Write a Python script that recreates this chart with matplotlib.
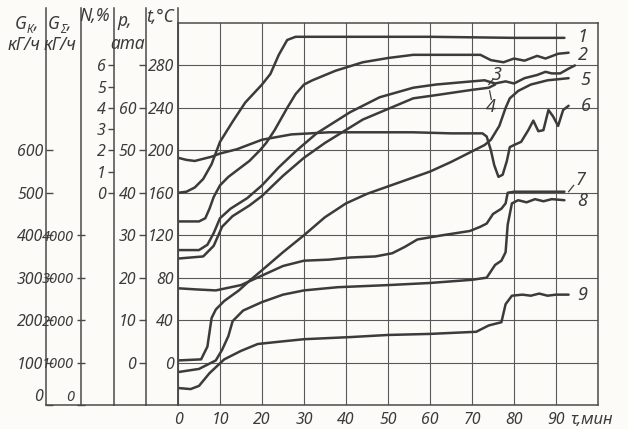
import matplotlib
matplotlib.use('Agg')
import matplotlib.pyplot as plt

# время, мин, и значения кривых в единицах шкалы t, °C (левая шкала графика)
c1_x = [0, 2, 4, 6, 8, 10, 13, 16, 20, 22, 24, 26, 28, 40, 60, 80, 92]
c1_y = [160, 161, 165, 173, 187, 208, 227, 245, 262, 272, 290, 304, 307, 307, 307, 306, 306]

c2_x = [0, 5, 6.5, 7.5, 8.5, 10, 12, 14, 17, 19.5, 21, 23, 25, 26, 28, 30, 32, 37.5, 44, 50, 56, 65, 72,
        74.5, 77.5, 80, 82.5, 85.5, 87.5, 90.5, 93]
c2_y = [133, 133, 136, 145, 156, 167, 175, 181, 190, 200, 207, 219, 233, 240, 253, 262, 266, 275, 283, 287, 290, 290, 290,
        285, 283, 286.5, 284.5, 289, 286.5, 291, 292]

c3_x = [0, 5, 7, 8.5, 10, 12.5, 16.5, 20, 24, 28, 33, 41, 48, 56, 61.4, 70, 73, 75.5, 78, 80, 82.5, 85.5, 87.5,
        89, 91, 93, 94.5]
c3_y = [106, 106, 111, 122, 136, 145, 155, 167, 184, 199, 216, 236, 250, 259, 262, 265, 266, 263, 265, 263, 268, 271, 274,
        272.5, 272.5, 277, 280]

c4_x = [0, 6, 8.5, 10.5, 13, 17, 20, 25, 30, 35, 44, 56, 61.4, 70, 74, 75.5]
c4_y = [98, 100, 110, 128, 138, 148, 157, 176, 193, 207, 229, 249, 252, 257, 259, 262]

c5_x = [0, 5.5, 7, 8, 9, 11, 14.5, 17, 20, 25, 30, 35, 40, 45, 50, 55, 60, 65, 70, 73, 74.5, 76.5, 78, 79, 81,
        84, 88, 93]
c5_y = [2, 3, 15, 42, 50, 58, 68, 77, 87, 104, 120, 137, 150, 159, 166, 173, 180, 189, 199, 205, 210, 223, 240, 249, 256,
        262, 266, 268]

c6_x = [0, 2, 4, 8, 10, 14, 18, 20, 27, 36, 56, 65, 72.5, 73.5, 74.5, 75.3, 76.3, 77.3, 78.3, 79, 80, 81.7, 83.4,
        84.6, 85.8, 87, 88.2, 89.3, 90.5, 91.7, 93]
c6_y = [193, 191, 190, 194, 197, 201, 207, 210, 215, 217, 217, 216, 216, 213, 200, 186, 175, 177, 190, 203, 205, 208, 219,
        228, 218, 219, 238, 232, 223, 238, 242]

c7_x = [0, 4, 9, 15, 20, 25, 30, 36, 41, 47, 51, 54, 57, 63, 69.5, 72, 73.5, 75, 77, 78, 78.5, 80, 92]
c7_y = [70, 69, 68, 73, 82, 91, 96, 97, 99, 100, 103, 109, 116, 120, 124, 128, 131, 140, 145, 150, 160, 161, 161]

c8_x = [0, 5, 9, 10.5, 12, 13, 15.5, 20, 25, 30, 38, 50, 60, 70, 73.5, 74.5, 75.5, 77, 78, 78.5, 79.5, 81, 83, 85,
        87, 89, 92]
c8_y = [-9, -6, 2, 12, 25, 39, 49, 57, 64, 68, 71, 73, 75, 78, 80, 86, 92, 96, 104, 130, 150, 153, 151, 154,
        152, 154, 153]

c9_x = [0, 3, 5, 7.5, 11, 15, 19, 25, 30, 41, 50, 60, 71, 74, 77, 78, 79.5, 82, 84, 86, 88, 90, 93]
c9_y = [-24, -25, -22, -10, 3, 11, 17.5, 20, 22, 24, 26, 27, 29, 35, 38, 55, 63, 64, 63, 65, 63, 64, 64]

curves = [(c1_x, c1_y), (c2_x, c2_y), (c3_x, c3_y), (c4_x, c4_y), (c5_x, c5_y),
          (c6_x, c6_y), (c7_x, c7_y), (c8_x, c8_y), (c9_x, c9_y)]

# номера кривых и где они подписаны
curve_labels = ['1', '2', '3', '4', '5', '6', '7', '8', '9']
label_x = [95, 95.3, 75.9, 74.6, 95.8, 95.8, 94.6, 95, 95]
label_y = [307, 290, 271, 241, 266, 242, 172, 152, 64]

x_ticks = [0, 10, 20, 30, 40, 50, 60, 70, 80, 90]
t_ticks = [0, 40, 80, 120, 160, 200, 240, 280]
p_ticks = [0, 10, 20, 30, 40, 50, 60, 70]
p_labels = ['0', '10', '20', '30', '40', '50', '60', '']
n_ticks = [0, 1, 2, 3, 4, 5, 6]
gs_ticks = [0, 1000, 2000, 3000, 4000]
gk_ticks = [0, 100, 200, 300, 400, 500, 600]

INK = '#3b3b3b'
LINE = '#4a4a4a'
BG = '#fcfbf7'
FONT = ['Noto Sans', 'DejaVu Sans']
FS = 11.5

plt.rcParams['font.family'] = FONT
plt.rcParams['font.style'] = 'italic'
plt.rcParams['font.stretch'] = 'condensed'
plt.rcParams['text.color'] = INK

W, H = 628, 429
fig = plt.figure(figsize=(W / 100, H / 100), dpi=100, facecolor=BG)


def fx(x):
    return x / W


def fy(y):
    return 1 - y / H


# главный график в пикселях
L, R, T, B = 178, 598, 23, 405
TOP_LINE = 8
ax = fig.add_axes([fx(L), fy(B), (R - L) / W, (B - T) / H])
ax.set_facecolor(BG)
ax.set_xlim(0, 100)
ax.set_ylim(-40, 320)

for c_x, c_y in curves:
    ax.plot(c_x, c_y, color=INK, lw=1.8, solid_capstyle='round', solid_joinstyle='round')

ax.set_xticks(x_ticks)
ax.set_yticks(t_ticks)
ax.grid(True, color='#585858', lw=0.8)
ax.tick_params(axis='both', length=0, labelsize=FS, colors=INK)
ax.tick_params(axis='x', pad=5)
ax.tick_params(axis='y', pad=3)
for s in ax.spines.values():
    s.set_color(LINE)
    s.set_linewidth(1.1)

for lab, lx, ly in zip(curve_labels, label_x, label_y):
    ax.text(lx, ly, lab, fontsize=13, ha='left' if lx > 90 else 'center', va='center', color=INK)

# выноски для 3, 4, 7
ax.plot([74.0, 75.0], [262, 267], color=INK, lw=0.9)
ax.plot([74.2, 74.6], [256, 248], color=INK, lw=0.9)
ax.plot([93.0, 94.2], [161, 167], color=INK, lw=0.9)

ax.annotate('τ,мин', xy=(93.5, 0), xycoords=('data', 'axes fraction'),
            xytext=(0, -5), textcoords='offset points', fontsize=FS + 0.5, ha='left', va='top')

# дополнительные шкалы слева
t_ext = 320 + (T - TOP_LINE) * 360 / (B - T)
scales = [
    (46, 81, lambda t: (t + 40) * 2.5, gk_ticks, [str(v) for v in gk_ticks], 'in', 5, FS),
    (81, 114, lambda t: (t + 40) * 25, gs_ticks, [str(v) for v in gs_ticks], 'inout', 6, FS - 1),
    (114, 146, lambda t: (t - 160) / 20, n_ticks, [str(v) for v in n_ticks], 'out', 4, FS),
    (146, L, lambda t: t / 4, p_ticks, p_labels, 'out', 5, FS),
]
for i, (x0, x1, conv, ticks, labels, direction, tlen, lsize) in enumerate(scales):
    sa = fig.add_axes([fx(x0), fy(B), (x1 - x0) / W, (B - TOP_LINE) / H])
    sa.patch.set_alpha(0)
    sa.set_xlim(0, 1)
    sa.set_ylim(conv(-40), conv(t_ext))
    sa.set_xticks([])
    sa.set_yticks(ticks)
    sa.set_yticklabels(labels)
    sa.tick_params(axis='y', direction=direction, length=tlen, width=1.0, color=LINE,
                   labelsize=lsize, labelcolor=INK, pad=2)
    for name, s in sa.spines.items():
        s.set_color(LINE)
        s.set_linewidth(1.1)
    sa.spines['top'].set_visible(False)
    sa.spines['right'].set_visible(i == 3)
    if i < 2:
        sa.get_yticklabels()[0].set_verticalalignment('bottom')

# подписи шкал
fig.text(fx(15), fy(29), 'G', fontsize=FS + 1, ha='left', va='baseline')
fig.text(fx(27), fy(23), 'К', fontsize=8.5, ha='left', va='top')
fig.text(fx(34), fy(29), ',', fontsize=FS + 1, ha='left', va='baseline')
fig.text(fx(24), fy(45), 'кГ/ч', fontsize=FS + 1, ha='center', va='center')
fig.text(fx(48), fy(29), 'G', fontsize=FS + 1, ha='left', va='baseline')
fig.text(fx(60), fy(23), 'Σ', fontsize=8.5, ha='left', va='top')
fig.text(fx(67), fy(29), ',', fontsize=FS + 1, ha='left', va='baseline')
fig.text(fx(60), fy(45), 'кГ/ч', fontsize=FS + 1, ha='center', va='center')
fig.text(fx(95), fy(16), 'N,%', fontsize=FS + 1, ha='center', va='center')
fig.text(fx(125), fy(21), 'p,', fontsize=FS + 1, ha='center', va='center')
fig.text(fx(128), fy(44), 'ата', fontsize=FS + 1, ha='center', va='center')
fig.text(fx(160), fy(17), 't,°C', fontsize=FS + 1, ha='center', va='center')

fig.savefig('out.png', dpi=100, facecolor=BG)
